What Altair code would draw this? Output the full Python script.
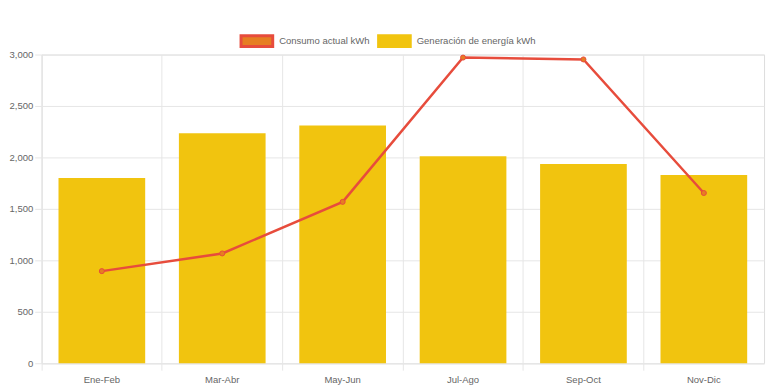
import altair as alt
import pandas as pd

periods = ["Ene-Feb", "Mar-Abr", "May-Jun", "Jul-Ago", "Sep-Oct", "Nov-Dic"]
generacion = [1800, 2235, 2310, 2012, 1935, 1828]
consumo = [895, 1067, 1568, 2970, 2952, 1654]
series_names = ["Consumo actual kWh", "Generación de energía kWh"]
y_ticks = [0, 500, 1000, 1500, 2000, 2500, 3000]

FONT = "Liberation Sans"
GRID = "#e6e6e6"
TXT = "#666666"

bars_df = pd.DataFrame({"periodo": periods, "valor": generacion, "serie": series_names[1]})
line_df = pd.DataFrame({"periodo": periods, "valor": consumo, "serie": series_names[0]})

PLOT_W = 730
PLOT_H = 312

x_enc = alt.X(
    "periodo:N",
    sort=periods,
    title=None,
    scale=alt.Scale(paddingInner=0, paddingOuter=0),
    axis=alt.Axis(
        bandPosition=0,
        grid=True,
        gridColor=GRID,
        domainColor=GRID,
        tickColor=GRID,
        tickSize=7,
        labelAngle=0,
        labelPadding=4,
        labelColor=TXT,
        labelFont=FONT,
        labelFontSize=9.6,
    ),
)

y_enc = alt.Y(
    "valor:Q",
    title=None,
    scale=alt.Scale(domain=[0, 3000], nice=False),
    axis=alt.Axis(
        values=y_ticks,
        format=",.0f",
        grid=True,
        gridColor=GRID,
        domainColor=GRID,
        tickColor=GRID,
        tickSize=7,
        labelPadding=2,
        labelColor=TXT,
        labelFont=FONT,
        labelFontSize=9.6,
    ),
)

legend = alt.Legend(
    title=None,
    orient="none",
    legendX=200,
    legendY=-31,
    direction="horizontal",
    symbolType="M-1,-0.34L1,-0.34L1,0.34L-1,0.34Z",
    symbolSize=1024,
    symbolStrokeWidth=3,
    symbolOpacity=1,
    labelFont=FONT,
    labelFontSize=9.6,
    labelColor=TXT,
    labelOffset=5,
    columnPadding=2,
)

bars = alt.Chart(bars_df).mark_bar(width=alt.RelativeBandSize(0.72), strokeWidth=0).encode(
    x=x_enc,
    y=y_enc,
    fill=alt.Fill(
        "serie:N",
        scale=alt.Scale(domain=series_names, range=["#e67e22", "#f1c40f"]),
        legend=legend,
    ),
    stroke=alt.Stroke(
        "serie:N",
        scale=alt.Scale(domain=series_names, range=["#e74c3c", "#f1c40f"]),
        legend=legend,
    ),
)

line = alt.Chart(line_df).mark_line(color="#e74c3c", strokeWidth=2.5).encode(
    x=alt.X("periodo:N", sort=periods),
    y="valor:Q",
)

points = alt.Chart(line_df).mark_point(
    filled=True, fill="#e67e22", stroke="#e74c3c", strokeWidth=1, size=26, opacity=1
).encode(
    x=alt.X("periodo:N", sort=periods),
    y="valor:Q",
)

chart = (
    alt.layer(bars, line, points)
    .properties(
        width=PLOT_W,
        height=PLOT_H,
        autosize=alt.AutoSizeParams(type="none"),
        padding={"left": 34, "top": 45, "right": 4, "bottom": 20},
    )
    .configure_view(stroke=GRID)
    .configure(background="white")
)

chart.save("out.html", embed_options={"renderer": "svg", "actions": False})
